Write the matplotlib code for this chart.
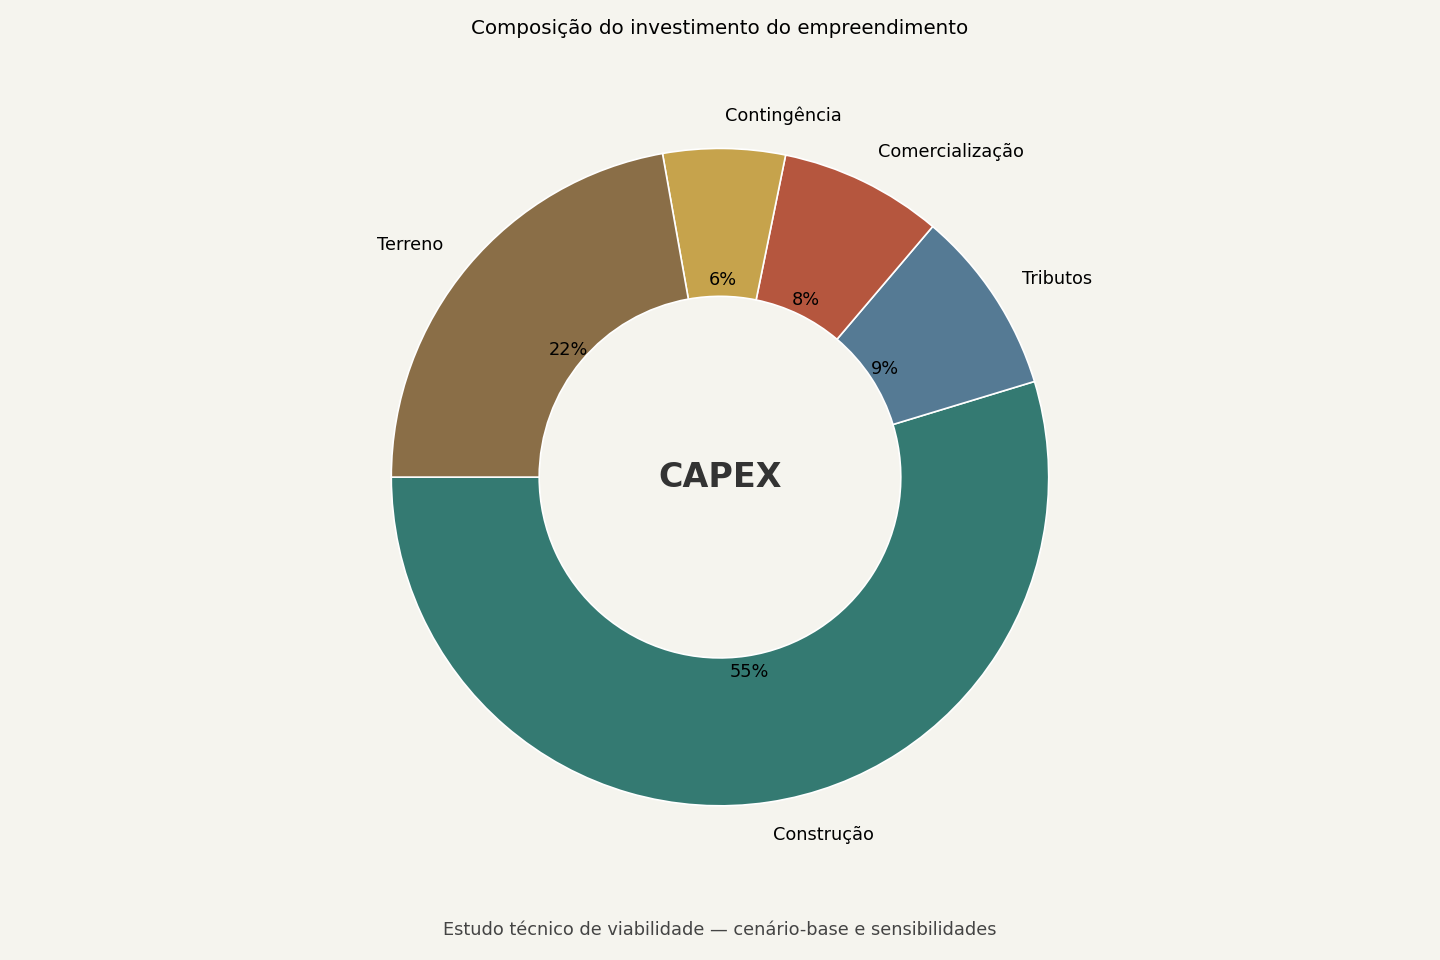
import matplotlib
matplotlib.use("Agg")
import matplotlib.pyplot as plt

plt.rcParams["font.family"] = ["DejaVu Sans"]

categories = ["Construção", "Tributos", "Comercialização", "Contingência", "Terreno"]
values = [54.7, 9.1, 8.0, 6.0, 22.2]
colors = ["#347a72", "#557a94", "#b5563e", "#c6a34c", "#8a6e47"]

title = "Composição do investimento do empreendimento"
subtitle = "Estudo técnico de viabilidade — cenário-base e sensibilidades"
center_label = "CAPEX"

bg = "#f5f4ee"
fig = plt.figure(figsize=(14.4, 9.6), dpi=100, facecolor=bg)
ax = fig.add_axes([0, 0.075, 1, 0.856])
ax.set_facecolor(bg)

wedges, texts, autotexts = ax.pie(
    values, labels=categories, colors=colors, startangle=180, counterclock=True,
    autopct="%1.0f%%", pctdistance=0.6, labeldistance=1.1,
    wedgeprops=dict(width=0.45, edgecolor="white", linewidth=1.2),
    textprops=dict(fontsize=12.8, color="black"))
ax.set_aspect("equal")
ax.text(0, 0, center_label, ha="center", va="center", fontsize=24,
        fontweight="bold", color="#333333")

fig.text(0.5, 0.970, title, ha="center", va="center", fontsize=14.3, color="black")
fig.text(0.5, 0.031, subtitle, ha="center", va="center", fontsize=12.8, color="#444444")

fig.savefig("out.png", dpi=100, facecolor=bg)
